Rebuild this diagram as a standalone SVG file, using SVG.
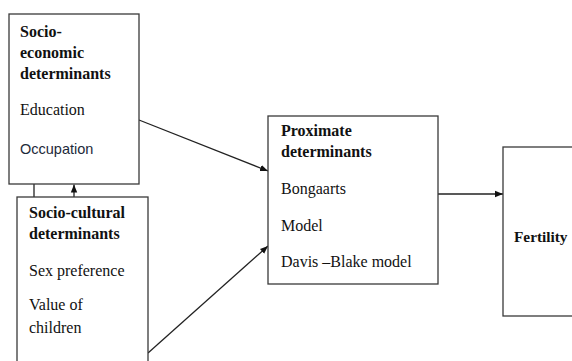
<svg xmlns="http://www.w3.org/2000/svg" width="572" height="361" viewBox="0 0 572 361">
<style>
.box{fill:#fff;stroke:#3a3a3a;stroke-width:1.3}
.b{font-family:"Liberation Serif",serif;font-weight:bold;font-size:16px;fill:#111}
.r{font-family:"Liberation Serif",serif;font-size:16px;fill:#111}
.s{font-family:"Liberation Sans",sans-serif;font-size:14.5px;fill:#1e2a3a}
.ln{stroke:#222;stroke-width:1.3;fill:none}
</style>
<defs>
<marker id="ah" viewBox="0 0 10 10" refX="10" refY="5" markerWidth="8" markerHeight="8" markerUnits="userSpaceOnUse" orient="auto">
<path d="M0,1 L10,5 L0,9 z" fill="#111"/>
</marker>
</defs>
<rect width="572" height="361" fill="#fff"/>
<g id="connectors">
<line class="ln" x1="34" y1="184" x2="34" y2="197"/>
<line class="ln" x1="74" y1="197" x2="74" y2="184.5" marker-end="url(#ah)"/>
<line class="ln" x1="139" y1="120" x2="268" y2="171" marker-end="url(#ah)"/>
<line class="ln" x1="148" y1="353" x2="268" y2="246" marker-end="url(#ah)"/>
<line class="ln" x1="438" y1="194" x2="503" y2="194" marker-end="url(#ah)"/>
</g>
<g id="socio-economic">
<rect class="box" x="9" y="14" width="130" height="170"/>
<text class="b" x="20" y="37">Socio-</text>
<text class="b" x="20" y="58">economic</text>
<text class="b" x="20" y="79">determinants</text>
<text class="r" x="20" y="115">Education</text>
<text class="s" x="20" y="154">Occupation</text>
</g>
<g id="socio-cultural">
<rect class="box" x="17" y="197" width="131" height="170"/>
<text class="b" x="29" y="218">Socio-cultural</text>
<text class="b" x="29" y="239">determinants</text>
<text class="r" x="29" y="276">Sex preference</text>
<text class="r" x="29" y="310">Value of</text>
<text class="r" x="29" y="333">children</text>
</g>
<g id="proximate">
<rect class="box" x="268" y="116" width="170" height="168"/>
<text class="b" x="281" y="136">Proximate</text>
<text class="b" x="281" y="157">determinants</text>
<text class="r" x="281" y="194">Bongaarts</text>
<text class="r" x="281" y="231">Model</text>
<text class="r" x="281" y="267">Davis –Blake model</text>
</g>
<g id="fertility">
<rect class="box" x="503" y="147" width="80" height="169"/>
<text class="b" x="514" y="242" style="font-size:15.3px">Fertility</text>
</g>
</svg>
